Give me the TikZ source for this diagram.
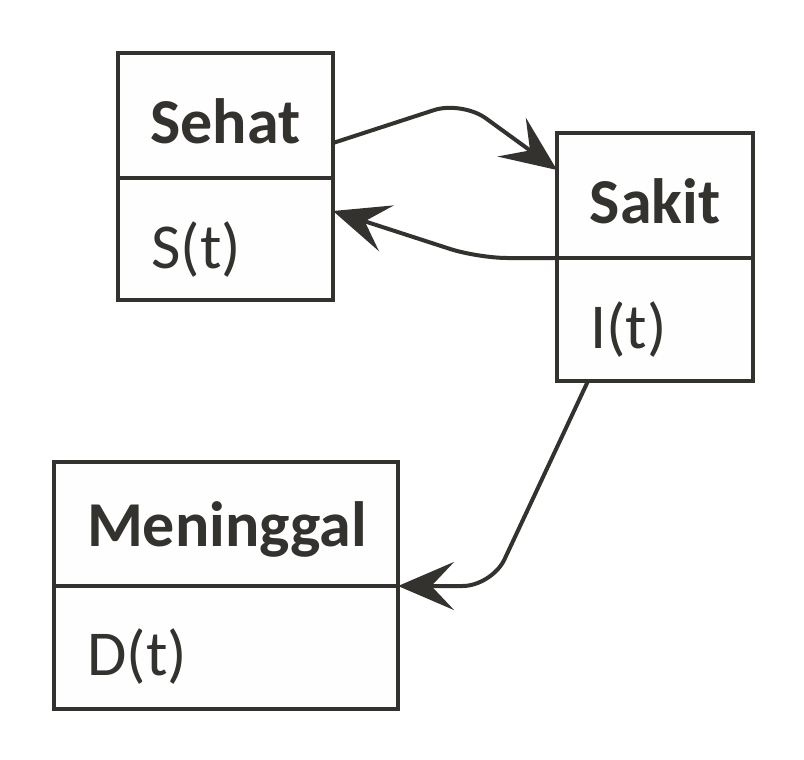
\documentclass[tikz,border=0pt]{standalone}
\usepackage{fontspec}
\setmainfont{Carlito}
\usetikzlibrary{arrows.meta}
\definecolor{ink}{RGB}{51,50,46}
\definecolor{boxfill}{RGB}{254,254,254}
\begin{document}
\begin{tikzpicture}[x=0.75pt,y=-0.75pt,
  umlbox/.style={draw=ink, fill=boxfill, line width=3pt, inner sep=0pt},
  titletext/.style={text=ink, font=\fontsize{48}{54}\selectfont\bfseries, inner sep=0pt},
  attrtext/.style={text=ink, font=\fontsize{48}{54}\selectfont, inner sep=0pt, anchor=base west},
  divider/.style={draw=ink, line width=3pt},
  conn/.style={draw=ink, line width=3pt, rounded corners=22pt,
    -{Stealth[length=42pt,width=36pt,inset=17pt]}}]
\useasboundingbox (0,0) rectangle (804,760);
% boxes
\node[umlbox, minimum width=161.25pt, minimum height=185.25pt] (sehat) at (225.5,176.5) {};
\node[umlbox, minimum width=147pt, minimum height=186pt] (sakit) at (655,257) {};
\node[umlbox, minimum width=258pt, minimum height=185.25pt] (mening) at (226,585.5) {};
% dividers
\draw[divider] (118,178) -- (333,178);
\draw[divider] (557,258) -- (753,258);
\draw[divider] (54,586) -- (398,586);
% titles
\node[titletext] (tSehat) at (225.5,121) {Sehat};
\node[titletext] (tSakit) at (655,201) {Sakit};
\node[titletext] (tMen) at (227,529) {Meninggal};
% attributes
\node[attrtext] (aS) at (151,268) {S(t)};
\node[attrtext] (aI) at (590,348) {I(t)};
\node[attrtext] (aD) at (87,675) {D(t)};
% connectors
\coordinate (c1a) at (333,143);
\coordinate (c1b) at (462,101);
\coordinate (c1c) at (557,170);
\draw[conn] (c1a) -- (c1b) -- (c1c);
\coordinate (c2a) at (557,258);
\coordinate (c2b) at (478,258);
\coordinate (c2c) at (333,211);
\draw[conn] (c2a) -- (c2b) -- (c2c);
\coordinate (c3a) at (588,381);
\coordinate (c3b) at (492,586);
\coordinate (c3c) at (398,586);
\draw[conn] (c3a) -- (c3b) -- (c3c);
\end{tikzpicture}
\end{document}
